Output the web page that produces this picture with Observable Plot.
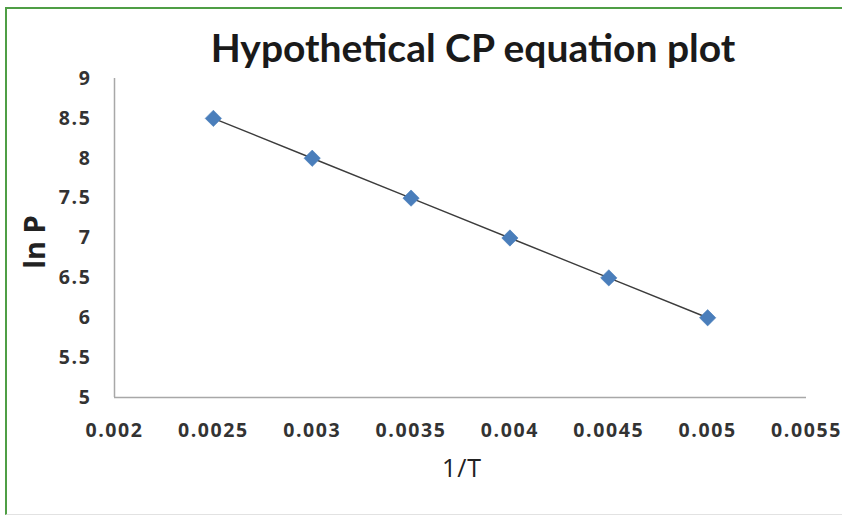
<!DOCTYPE html>
<html>
<head>
<meta charset="utf-8">
<script src="https://cdn.jsdelivr.net/npm/d3@7"></script>
<script src="https://cdn.jsdelivr.net/npm/@observablehq/plot@0.6"></script>
<style>
  html, body { margin: 0; padding: 0; background: #fff; }
  #wrap { position: relative; width: 842px; height: 516px; overflow: hidden; background: #fff; }
  #frame { position: absolute; left: 5px; top: 7px; width: 900px; height: 505px;
           border-left: 2px solid #4f9e45; border-top: 2px solid #4f9e45;
           border-bottom: 1px solid #e2e2e2; }
  #title { position: absolute; left: 0; top: 24px; width: 946px; text-align: center;
           font-family: Lato, "Open Sans", sans-serif; font-weight: 700; font-size: 39px; color: #1a1a1a; }
  #xlabel { position: absolute; left: 0; top: 450px; width: 924px; text-align: center;
            font-family: "Open Sans", sans-serif; font-size: 25px; color: #222; letter-spacing: 1px; }
  #ylabel { position: absolute; left: 33px; top: 242px; transform: translate(-50%, -50%) rotate(-90deg);
            font-family: "Open Sans", sans-serif; font-weight: 700; font-size: 29px; color: #222; white-space: nowrap; }
  #chart { position: absolute; left: 0; top: 0; }
  #chart svg text { letter-spacing: 1.6px; }
</style>
</head>
<body>
<div id="wrap">
  <div id="frame"></div>
  <div id="chart"></div>
  <div id="title">Hypothetical CP equation plot</div>
  <div id="xlabel">1/T</div>
  <div id="ylabel">ln P</div>
</div>
<script>
// Data
const invT = [0.0025, 0.003, 0.0035, 0.004, 0.0045, 0.005];
const lnP  = [8.5, 8, 7.5, 7, 6.5, 6];
const xTicks = [0.002, 0.0025, 0.003, 0.0035, 0.004, 0.0045, 0.005, 0.0055];
const xTickLabels = ["0.002", "0.0025", "0.003", "0.0035", "0.004", "0.0045", "0.005", "0.0055"];
const yTicks = [5, 5.5, 6, 6.5, 7, 7.5, 8, 8.5, 9];
const yTickLabels = ["5", "5.5", "6", "6.5", "7", "7.5", "8", "8.5", "9"];

const data = invT.map((x, i) => ({x, y: lnP[i]}));

const chart = Plot.plot({
  width: 842,
  height: 516,
  marginLeft: 114,
  marginRight: 36,
  marginTop: 78,
  marginBottom: 119,
  style: { background: "transparent", fontFamily: "'Open Sans', sans-serif" },
  x: { domain: [0.002, 0.0055] },
  y: { domain: [5, 9] },
  marks: [
    Plot.axisX({
      ticks: xTicks, tickSize: 0, tickPadding: 26,
      tickFormat: (d) => xTickLabels[xTicks.indexOf(d)],
      fontSize: 19.5, fontWeight: 700, fill: "#333", label: null
    }),
    Plot.axisY({
      ticks: yTicks, tickSize: 0, tickPadding: 23,
      tickFormat: (d) => yTickLabels[yTicks.indexOf(d)],
      fontSize: 19.5, fontWeight: 700, fill: "#333", label: null
    }),
    Plot.ruleX([0.002], { stroke: "#a8a8a8", strokeWidth: 1.5 }),
    Plot.ruleY([5], { stroke: "#a8a8a8", strokeWidth: 1.5 }),
    Plot.line(data, { x: "x", y: "y", stroke: "#3c3c3c", strokeWidth: 1.4 }),
    Plot.dot(data, { x: "x", y: "y", symbol: "square", rotate: 45, r: 6.5, fill: "#4a7ebb", stroke: "#4a7ebb", strokeWidth: 0.6 })
  ]
});
document.getElementById("chart").appendChild(chart);
</script>
</body>
</html>
